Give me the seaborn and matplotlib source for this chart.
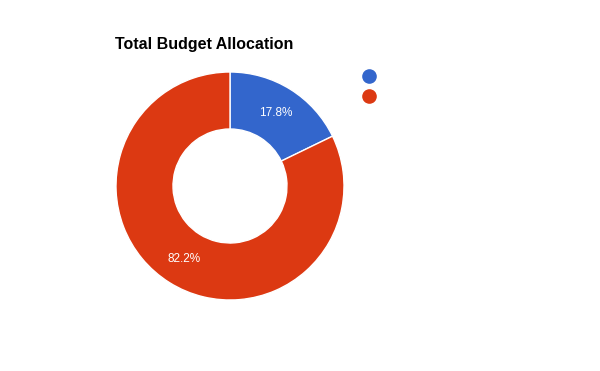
import matplotlib.pyplot as plt
from matplotlib.lines import Line2D
import seaborn as sns

sns.set_theme(style="white")
plt.rcParams['font.family'] = ['Liberation Sans', 'DejaVu Sans']

categories = ["", ""]
shares = [17.8, 82.2]
colors = ["#3366CC", "#DC3912"]

fig = plt.figure(figsize=(6, 3.71), dpi=100)
ax = fig.add_axes([0, 0, 1, 1])

wedges, texts, autotexts = ax.pie(
    shares, colors=colors, startangle=90, counterclock=False,
    center=(230, 185), radius=114, autopct="%.1f%%", pctdistance=0.76,
    wedgeprops=dict(width=57, edgecolor="white", linewidth=1),
    textprops=dict(color="white", fontsize=8.5),
)
ax.set_xlim(0, 600)
ax.set_ylim(0, 371)
ax.set_aspect("equal")
ax.axis("off")

fig.text(115, 371 - 45, "Total Budget Allocation", transform=None,
         fontsize=11.5, fontweight="bold", color="black", va="center", ha="left")

handles = [Line2D([], [], marker="o", linestyle="none", markersize=9.5,
                  markerfacecolor=c, markeredgecolor=c) for c in colors]
leg = fig.legend(handles, categories, loc="upper left",
                 bbox_to_anchor=(362 / 600, 1 - 70 / 371), frameon=False,
                 fontsize=10, labelspacing=0.45, handletextpad=0.3,
                 borderaxespad=0, borderpad=0, handlelength=1)

fig.savefig("out.png", dpi=100, facecolor="white")
